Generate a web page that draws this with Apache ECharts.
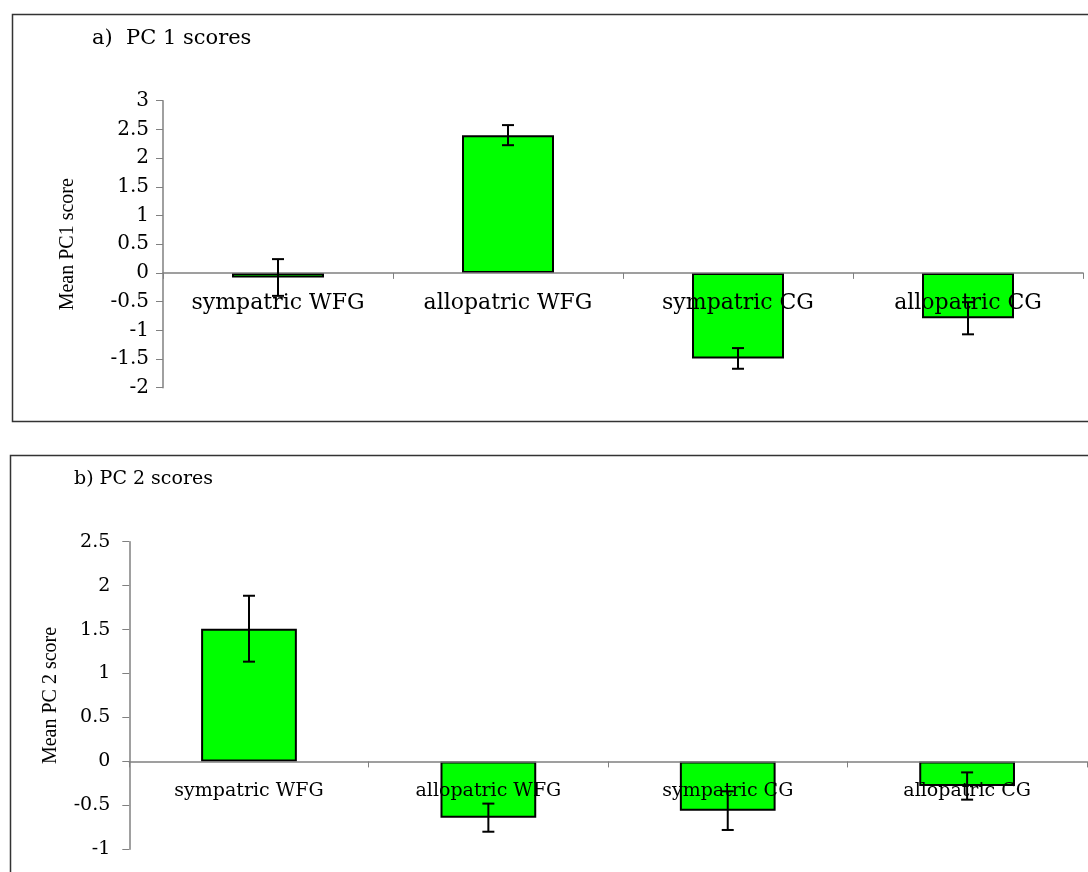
<!DOCTYPE html>
<html>
<head>
<meta charset="utf-8">
<script src="https://cdn.jsdelivr.net/npm/echarts@6/dist/echarts.min.js"></script>
<style>
html,body{margin:0;padding:0;background:#fff;}
#chart{width:1088px;height:872px;}
</style>
</head>
<body>
<div id="chart"></div>
<script>
// ---- data ----
var categories = ['sympatric WFG', 'allopatric WFG', 'sympatric CG', 'allopatric CG'];
var pc1Mean = [-0.08, 2.40, -1.49, -0.79];
var pc1Err  = [0.32, 0.175, 0.18, 0.28];
var pc2Mean = [1.51, -0.64, -0.56, -0.28];
var pc2Err  = [0.375, 0.16, 0.22, 0.155];
var titleA = 'a)  PC 1 scores';
var titleB = 'b) PC 2 scores';
var yNameA = 'Mean PC1 score';
var yNameB = 'Mean PC 2 score';

var FONT = 'DejaVu Serif';
var NAME_FONT = 'Liberation Serif';
var AXIS_GREY = '#808080';

var gridA = {left: 163, top: 100.7, width: 920, height: 287, min: -2, max: 3};
var gridB = {left: 129.3, top: 541.7, width: 957.5, height: 307.6, min: -1, max: 2.5};

function errRender(params, api) {
  var i = api.value(0), v = api.value(1), e = api.value(2);
  var hi = api.coord([i, v + e]);
  var lo = api.coord([i, v - e]);
  var hw = 6;
  var st = {stroke: '#000', lineWidth: 2};
  return {
    type: 'group',
    children: [
      {type: 'line', shape: {x1: hi[0], y1: hi[1], x2: lo[0], y2: lo[1]}, style: st},
      {type: 'line', shape: {x1: hi[0] - hw, y1: hi[1], x2: hi[0] + hw, y2: hi[1]}, style: st},
      {type: 'line', shape: {x1: lo[0] - hw, y1: lo[1], x2: lo[0] + hw, y2: lo[1]}, style: st}
    ]
  };
}

// x axis sits on the zero line: offset derived from the value range of the grid
function xAxisCfg(gridIndex, g, fs, margin) {
  var zeroOffset = -g.height * (0 - g.min) / (g.max - g.min);
  return {
    type: 'category', gridIndex: gridIndex, data: categories, z: 10,
    position: 'bottom', offset: zeroOffset,
    axisLine: {onZero: false, lineStyle: {color: AXIS_GREY, width: 1.5}},
    axisTick: {show: true, length: 6, lineStyle: {color: AXIS_GREY, width: 1}},
    axisLabel: {margin: margin, color: '#000', fontFamily: FONT, fontSize: fs, interval: 0},
    splitLine: {show: false}
  };
}

function yAxisCfg(gridIndex, g, name, gap, lblMargin, fs) {
  return {
    type: 'value', gridIndex: gridIndex, min: g.min, max: g.max, interval: 0.5,
    name: name, nameLocation: 'middle', nameGap: gap, nameRotate: 90,
    nameTextStyle: {fontFamily: NAME_FONT, fontSize: 20, color: '#000'},
    axisLine: {show: true, onZero: false, lineStyle: {color: AXIS_GREY, width: 1.5}},
    axisTick: {show: true, length: 7, lineStyle: {color: AXIS_GREY, width: 1}},
    axisLabel: {margin: lblMargin, color: '#000', fontFamily: FONT, fontSize: fs},
    splitLine: {show: false}
  };
}

function barSeries(idx, vals) {
  return {
    type: 'bar', xAxisIndex: idx, yAxisIndex: idx, data: vals,
    barWidth: '40%', z: 2,
    itemStyle: {color: '#00ff00', borderColor: '#000', borderWidth: 2},
    emphasis: {disabled: true}
  };
}

function errSeries(idx, vals, errs) {
  return {
    type: 'custom', xAxisIndex: idx, yAxisIndex: idx, z: 20,
    renderItem: errRender,
    encode: {x: 0, y: 1},
    data: categories.map(function (c, i) { return [i, vals[i], errs[i]]; })
  };
}

var chart = echarts.init(document.getElementById('chart'), null, {renderer: 'canvas'});
chart.setOption({
  backgroundColor: '#fff',
  animation: false,
  title: [
    {text: titleA, left: 92, top: 28, padding: 0,
     textStyle: {fontFamily: FONT, fontSize: 21, fontWeight: 'normal', color: '#000'}},
    {text: titleB, left: 74, top: 470, padding: 0,
     textStyle: {fontFamily: FONT, fontSize: 19, fontWeight: 'normal', color: '#000'}}
  ],
  graphic: [
    {type: 'rect', left: 10, top: 12, shape: {width: 1100, height: 407},
     style: {fill: 'none', stroke: '#333', lineWidth: 1.5}, silent: true},
    {type: 'rect', left: 8, top: 453, shape: {width: 1100, height: 500},
     style: {fill: 'none', stroke: '#333', lineWidth: 1.5}, silent: true}
  ],
  grid: [
    {left: gridA.left, top: gridA.top, width: gridA.width, height: gridA.height},
    {left: gridB.left, top: gridB.top, width: gridB.width, height: gridB.height}
  ],
  xAxis: [xAxisCfg(0, gridA, 22, 19), xAxisCfg(1, gridB, 19, 20)],
  yAxis: [
    yAxisCfg(0, gridA, yNameA, 85, 14, 20),
    yAxisCfg(1, gridB, yNameB, 69, 19, 19)
  ],
  series: [
    barSeries(0, pc1Mean),
    errSeries(0, pc1Mean, pc1Err),
    barSeries(1, pc2Mean),
    errSeries(1, pc2Mean, pc2Err)
  ]
});
</script>
</body>
</html>
